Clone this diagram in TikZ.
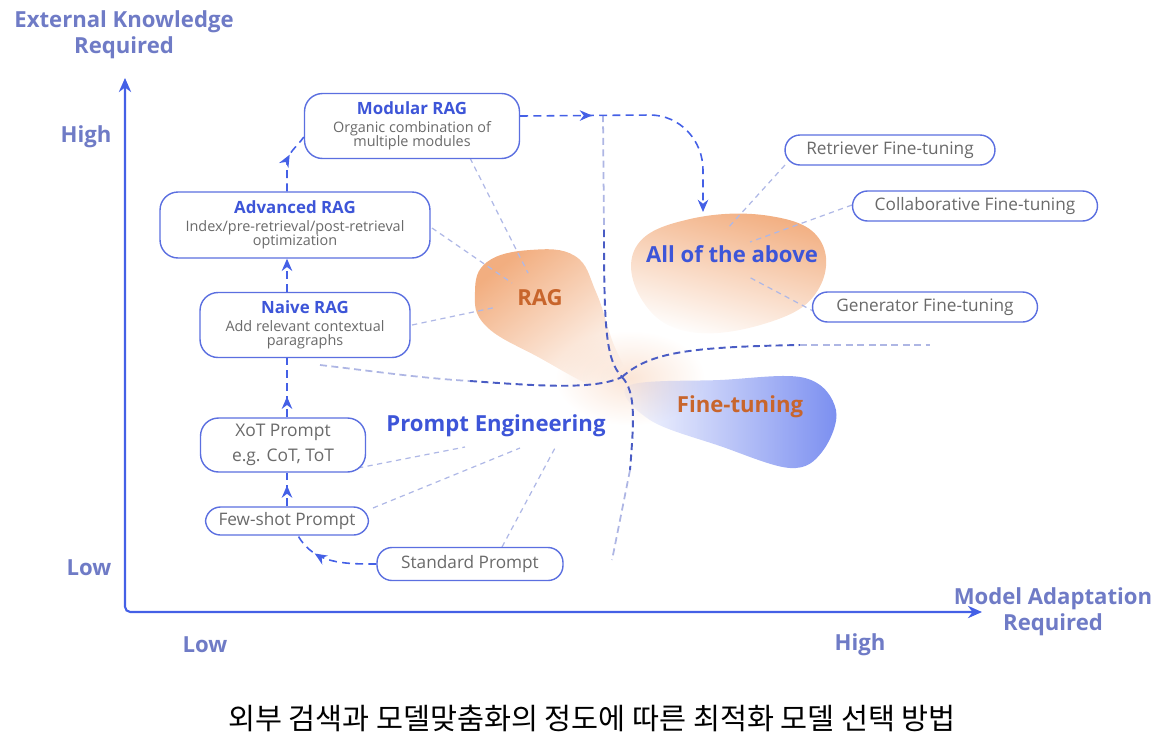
\documentclass[tikz,border=0pt]{standalone}
\usepackage{fontspec}
\setmainfont{Open Sans}
\newfontfamily\krfont{Noto Sans CJK KR}
\usetikzlibrary{arrows.meta,calc,decorations.markings,fadings}

\definecolor{axisblue}{HTML}{4460E6}
\definecolor{labelblue}{HTML}{6F7BC6}
\definecolor{boxblue}{HTML}{5B6FE0}
\definecolor{titleblue}{HTML}{3D55D8}
\definecolor{subgray}{HTML}{6A6A6A}
\definecolor{blobtext}{HTML}{C8652C}
\definecolor{linkgray}{HTML}{AFB8E6}
\definecolor{borderblue}{HTML}{4A5CC4}
\definecolor{ragorange}{HTML}{F2AE80}
\definecolor{ftblue}{HTML}{7A8EF0}

\tikzfading[name=blobfade, top color=transparent!0, middle color=transparent!15, bottom color=transparent!100]

\newcommand{\ragtitle}{\fontsize{9.6}{11}\selectfont\bfseries\color{titleblue}}
\newcommand{\ragsub}{\fontsize{8.2}{8.3}\selectfont\color{subgray}}
\newcommand{\pillfont}{\fontsize{9.8}{11}\selectfont\color{subgray}}

\begin{document}
\begin{tikzpicture}[x=0.02cm, y=-0.02cm,
  ragbox/.style={draw=boxblue, line width=0.8pt, fill=white, rounded corners=0.36cm,
    align=center, inner sep=0pt, font=\ragsub},
  pillbox/.style={draw=boxblue, line width=0.8pt, fill=white, rounded corners=0.3cm,
    inner sep=0pt, minimum height=0.6cm, font=\pillfont},
  axislabel/.style={align=center, text=labelblue, font=\fontsize{12.6}{15}\selectfont\bfseries},
  blobtitle/.style={font=\fontsize{12.6}{15}\selectfont\bfseries},
  flowarrow/.style={draw=axisblue, line width=0.9pt, dash pattern=on 4.5pt off 3pt},
  midarrow/.style={postaction={decorate}, decoration={markings,
    mark=at position #1 with {\arrow{Stealth[length=7pt,width=6pt]}}}},
  linkline/.style={draw=linkgray, line width=0.7pt, dash pattern=on 3pt off 2.5pt},
  border/.style={draw=borderblue, line width=1.1pt, dash pattern=on 4pt off 2.5pt},
  borderfade/.style={draw=borderblue!45, line width=1pt, dash pattern=on 4pt off 2.5pt}]
\useasboundingbox (0,0) rectangle (1170,745);

% soft blobs
\shade[inner color=ragorange!32, outer color=white]
  (630,378) ellipse [x radius=1.5cm, y radius=0.95cm];
\fill[ragorange, path fading=blobfade, fading angle=40]
  plot[smooth cycle, tension=0.7] coordinates {(475,292) (487,262) (530,250) (575,256)
  (596,292) (612,340) (630,388) (598,388) (540,358) (486,326)};
\shade[top color=ragorange, middle color=ragorange!45, bottom color=white, shading angle=-15]
  plot[smooth cycle, tension=0.7] coordinates {(636,247) (690,219) (770,216)
  (820,240) (818,290) (770,322) (690,332) (642,300)};
\fill[ftblue, path fading=blobfade, fading angle=-90]
  plot[smooth cycle, tension=0.6] coordinates {(628,386) (720,380) (805,378)
  (836,410) (822,452) (790,468) (720,446) (650,420)};

% quadrant borders
\coordinate (cross) at (622,377);
\draw[borderfade] (603,115) -- (604,230);
\draw[border] (604,230) .. controls (604,330) and (606,360) .. (cross);
\draw[border] (cross) .. controls (636,392) and (634,420) .. (630,470);
\draw[borderfade] (630,470) -- (612,560);
\draw[borderfade] (320,365) .. controls (380,372) and (420,378) .. (470,381);
\draw[border] (470,381) .. controls (540,386) and (595,390) .. (cross);
\draw[border] (cross) .. controls (650,352) and (690,347) .. (800,345);
\draw[borderfade] (800,345) -- (930,345);

% axes
\coordinate (origin) at (125,612);
\coordinate (ytop) at (125,78);
\coordinate (xend) at (982,612);
\draw[axisblue, line width=1.2pt, rounded corners=3pt, {Stealth[length=8pt,width=7pt]}-{Stealth[length=8pt,width=7pt]}]
  (ytop) -- (origin) -- (xend);
\node[axislabel] (ylab) at (124,35) {External Knowledge\\Required};
\node[axislabel] (xlab) at (1053,612) {Model Adaptation\\Required};
\node[axislabel] (yhigh) at (86,137) {High};
\node[axislabel] (ylow) at (89,568) {Low};
\node[axislabel] (xlow) at (205,645) {Low};
\node[axislabel] (xhigh) at (860,645) {High};

% blob labels
\node[blobtitle, text=blobtext] (rag) at (540,298) {RAG};
\node[blobtitle, text=titleblue] (allabove) at (732,254) {All of the above};
\node[blobtitle, text=titleblue] (prompteng) at (496,426) {Prompt Engineering};
\node[blobtitle, text=blobtext] (finetune) at (740,407) {Fine-tuning};

% light links
\draw[linkline] (470,158) -- ($(rag)+(-12,-25)$);
\draw[linkline] (432,228) -- ($(rag)+(-28,-15)$);
\draw[linkline] (412,325) -- ($(rag)+(-43,9)$);
\draw[linkline] (358,468) -- ($(prompteng)+(-31,21)$);
\draw[linkline] (373,508) -- ($(prompteng)+(24,22)$);
\draw[linkline] (502,547) -- ($(prompteng)+(59,22)$);
\draw[linkline] (785,165) -- ($(allabove)+(-5,-25)$);
\draw[linkline] (852,205) -- ($(allabove)+(18,-12)$);
\draw[linkline] (815,312) -- ($(allabove)+(15,22)$);

% boxes
\node[ragbox, minimum width=4.3cm, minimum height=1.3cm] (mod) at (412,126)
  {\ragtitle Modular RAG\\[1.5pt]\ragsub Organic combination of\\\ragsub multiple modules};
\node[ragbox, minimum width=5.4cm, minimum height=1.32cm] (adv) at (295,225)
  {\ragtitle Advanced RAG\\[1.5pt]\ragsub Index/pre-retrieval/post-retrieval\\\ragsub optimization};
\node[ragbox, minimum width=4.2cm, minimum height=1.3cm] (naive) at (305,325)
  {\ragtitle Naive RAG\\[1.5pt]\ragsub Add relevant contextual\\\ragsub paragraphs};
\node[ragbox, minimum width=3.3cm, minimum height=1.08cm, font=\fontsize{9.9}{14}\selectfont\color{subgray}] (xot) at (283,445)
  {XoT Prompt\\e.g. CoT, ToT};
\node[pillbox, minimum width=3.26cm, minimum height=0.56cm] (few) at (287,521) {Few-shot Prompt};
\node[pillbox, minimum width=3.72cm, minimum height=0.66cm] (std) at (470,564) {Standard Prompt};
\node[pillbox, minimum width=4.2cm] (retr) at (890,150) {Retriever Fine-tuning};
\node[pillbox, minimum width=4.9cm] (collab) at (975,206) {Collaborative Fine-tuning};
\node[pillbox, minimum width=4.5cm] (gen) at (925,307) {Generator Fine-tuning};

% flow arrows
\coordinate (allin) at (703,212);
\draw[flowarrow, midarrow=0.72] (std.west) to[out=180, in=-60] ([xshift=0.22cm]few.south);
\draw[flowarrow, midarrow=0.62] (few.north) -- (few.north |- xot.south);
\draw[flowarrow, midarrow=0.35] (few.north |- xot.north) -- (few.north |- naive.south);
\draw[flowarrow, -{Stealth[length=7pt,width=6pt]}] (few.north |- naive.north) -- (few.north |- adv.south);
\draw[flowarrow, midarrow=0.62] (few.north |- adv.north) -- ++(0,-26) to[out=90, in=235] ([yshift=-0.22cm]mod.west);
\draw[flowarrow, midarrow=0.28, -{Stealth[length=7pt,width=6pt]}]
  ([yshift=0.2cm]mod.east) -- (650,115) to[out=0, in=90] (703,170) -- (allin);

% caption
\node[font=\krfont\fontsize{16.7}{20}\selectfont] (caption) at (592,718)
  {외부 검색과 모델맞춤화의 정도에 따른 최적화 모델 선택 방법};
\end{tikzpicture}
\end{document}
